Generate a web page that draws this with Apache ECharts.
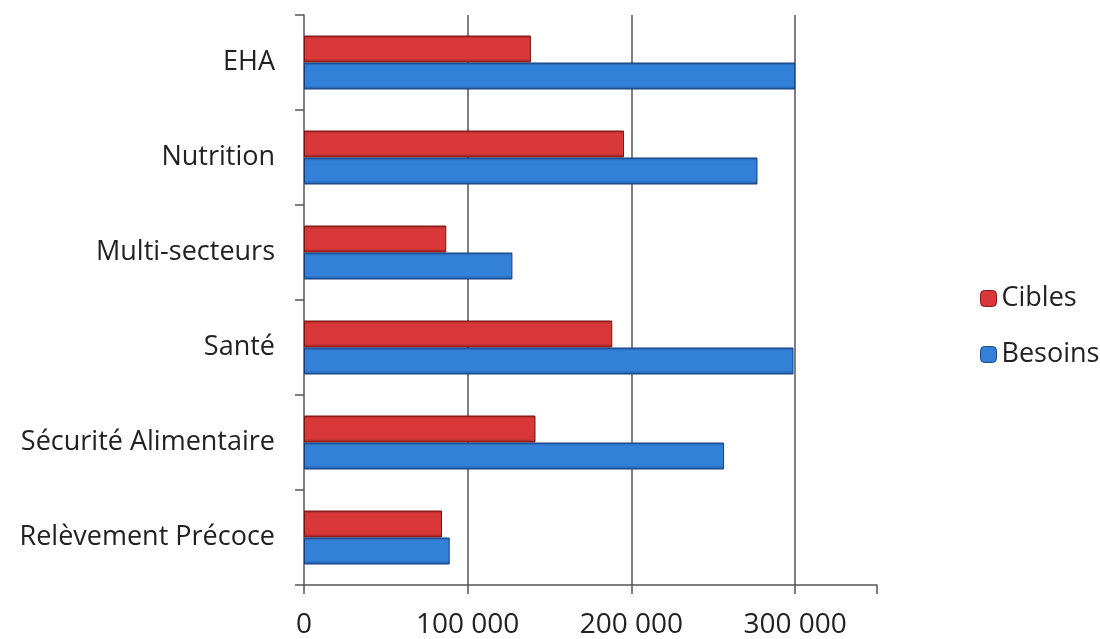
<!DOCTYPE html>
<html>
<head>
<meta charset="utf-8">
<style>
  html, body { margin: 0; padding: 0; background: #ffffff; }
  #chart { width: 1100px; height: 639px; }
</style>
<script src="https://cdn.jsdelivr.net/npm/echarts@6/dist/echarts.min.js"></script>
</head>
<body>
<div id="chart"></div>
<script>
// Secteurs, du haut vers le bas
const categories = ['EHA', 'Nutrition', 'Multi-secteurs', 'Santé', 'Sécurité Alimentaire', 'Relèvement Précoce'];
// Personnes ciblées par secteur
const cibles = [138600, 195500, 86900, 188300, 141400, 84300];
// Personnes dans le besoin par secteur
const besoins = [300000, 277000, 127300, 299000, 256600, 89000];
// Graduations de l'axe des valeurs
const xTicks = [0, 100000, 200000, 300000];

const font = '"Open Sans", "Noto Sans", sans-serif';

function bevel(mid, edge) {
  return new echarts.graphic.LinearGradient(0, 0, 0, 1, [
    { offset: 0, color: edge },
    { offset: 0.12, color: mid },
    { offset: 0.85, color: mid },
    { offset: 1, color: edge }
  ]);
}

const chart = echarts.init(document.getElementById('chart'));
chart.setOption({
  animation: false,
  backgroundColor: '#ffffff',
  grid: { left: 304, right: 223, top: 15, bottom: 53, containLabel: false },
  legend: {
    orient: 'vertical',
    left: 975,
    top: 280,
    itemWidth: 16,
    itemHeight: 16,
    itemGap: 29,
    textStyle: { fontFamily: font, fontSize: 27, color: '#222' },
    data: [
      { name: 'Cibles', itemStyle: { color: '#d93839', borderColor: '#8a1a1a', borderWidth: 1 } },
      { name: 'Besoins', itemStyle: { color: '#3380d8', borderColor: '#1b4b8c', borderWidth: 1 } }
    ]
  },
  xAxis: {
    type: 'value',
    min: 0,
    max: 350000,
    interval: 100000,
    axisLine: { show: true, lineStyle: { color: '#555', width: 1.5 } },
    axisTick: { show: true, length: 9, inside: false, lineStyle: { color: '#555', width: 1.5 } },
    splitLine: { show: true, showMinLine: false, showMaxLine: false, lineStyle: { color: '#555', width: 1.5 } },
    axisLabel: {
      margin: 26,
      fontFamily: font,
      fontSize: 28,
      color: '#222',
      formatter: v => xTicks.includes(v) ? String(v).replace(/\B(?=(\d{3})+(?!\d))/g, ' ') : ''
    }
  },
  yAxis: {
    type: 'category',
    data: categories,
    inverse: true,
    axisLine: { show: true, lineStyle: { color: '#555', width: 1.5 } },
    axisTick: { show: true, length: 9, inside: false, lineStyle: { color: '#555', width: 1.5 } },
    axisLabel: { margin: 29, fontFamily: font, fontSize: 27, color: '#222' }
  },
  series: [
    {
      name: 'Cibles',
      type: 'bar',
      data: cibles,
      barWidth: 27,
      barGap: '0%',
      itemStyle: { color: bevel('#d93839', '#9a2020'), borderColor: '#7a1414', borderWidth: 1 }
    },
    {
      name: 'Besoins',
      type: 'bar',
      data: besoins,
      barWidth: 27,
      barGap: '0%',
      itemStyle: { color: bevel('#3380d8', '#1d57a3'), borderColor: '#163f78', borderWidth: 1 }
    }
  ]
});
</script>
</body>
</html>
